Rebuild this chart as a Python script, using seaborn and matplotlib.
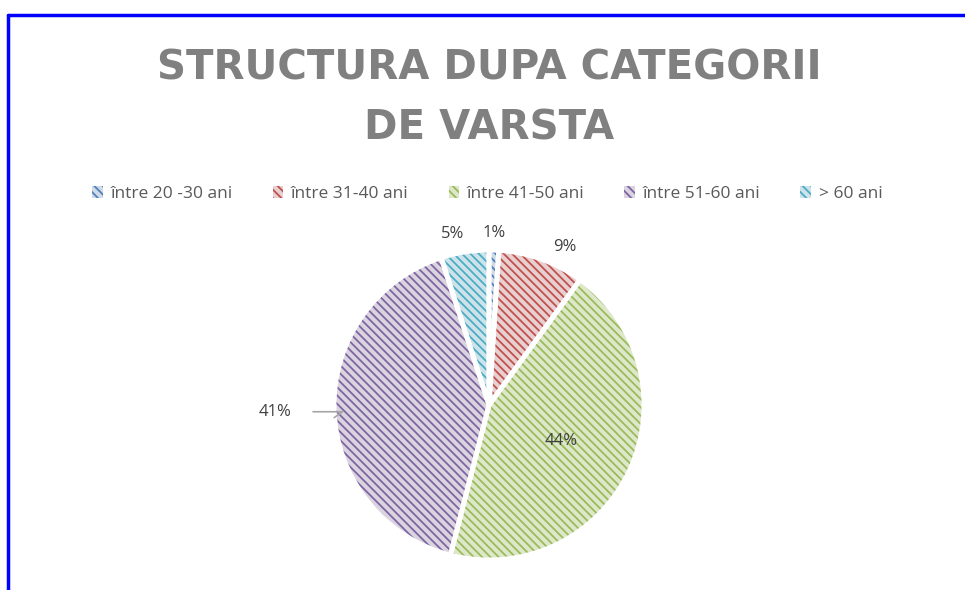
import numpy as np
import matplotlib.pyplot as plt
import matplotlib.patches as mpatches
from matplotlib.colors import to_rgba
import seaborn as sns

# date
categorii = ["între 20 -30 ani", "între 31-40 ani", "între 41-50 ani", "între 51-60 ani", "> 60 ani"]
procente = [1, 9, 44, 41, 5]
etichete = ["1%", "9%", "44%", "41%", "5%"]

# culori (tema Office)
culori_linii = ["#4f81bd", "#c0504d", "#9bbb59", "#8064a2", "#4bacc6"]

sns.set_theme(style="white")
plt.rcParams["font.family"] = ["Open Sans", "DejaVu Sans"]
plt.rcParams["hatch.linewidth"] = 1.3

fig = plt.figure(figsize=(9.65, 5.9), dpi=100)

# chenar albastru (stanga + sus)
fig.add_artist(plt.Line2D([0.008, 0.008], [0, 0.975], color="#0000ff", lw=2.5, transform=fig.transFigure))
fig.add_artist(plt.Line2D([0.008, 1.0], [0.975, 0.975], color="#0000ff", lw=2.5, transform=fig.transFigure))

# titlu
fig.text(0.507, 0.917, "STRUCTURA DUPA CATEGORII\nDE VARSTA", ha="center", va="top",
         fontsize=29, fontweight="bold", color="#808080", linespacing=1.62,
         family=["DejaVu Sans"])

ax = fig.add_axes([0.2658, -0.0805, 0.4819, 0.788])
fundal = [sns.light_palette(c, n_colors=6)[1] for c in culori_linii]
hasura = "\\\\\\\\"

wedges, _ = ax.pie(procente, startangle=90, counterclock=False, colors=fundal,
                   wedgeprops=dict(linewidth=0))
for w, c in zip(wedges, culori_linii):
    w.set_hatch(hasura)
    w._hatch_color = to_rgba(c)

# margini albe
ax.pie(procente, startangle=90, counterclock=False, colors=["none"] * 5,
       wedgeprops=dict(linewidth=3.5, edgecolor="white"))

ax.set_xlim(-1.5, 1.5)
ax.set_ylim(-1.5, 1.5)
ax.set_aspect("equal")
ax.axis("off")

# etichete
distante = [1.11, 1.13, 0.52, 1.38, 1.13]
unghi_corectie = [0, -6, -1, 0, 3]
for w, txt, d, dc in zip(wedges, etichete, distante, unghi_corectie):
    ang = np.deg2rad((w.theta1 + w.theta2) / 2 + dc)
    x, y = d * np.cos(ang), d * np.sin(ang)
    if txt == "41%":
        ax.annotate(txt, xy=(np.cos(ang), np.sin(ang) - 0.05),
                    xytext=(x, y), ha="center", va="center", fontsize=12, color="#404040",
                    arrowprops=dict(arrowstyle="-", color="#a6a6a6", lw=1.2,
                                    connectionstyle="angle,angleA=0,angleB=35,rad=0",
                                    shrinkA=13, shrinkB=0))
    else:
        ax.text(x, y, txt, ha="center", va="center", fontsize=12, color="#404040")

# legenda
handles = [mpatches.Patch(facecolor=f, hatch=hasura, linewidth=0, label=l)
           for f, l in zip(fundal, categorii)]
for h, c in zip(handles, culori_linii):
    h._hatch_color = to_rgba(c)
fig.legend(handles=handles, loc="center", bbox_to_anchor=(0.505, 0.671), ncol=5,
           frameon=False, fontsize=12.5, handlelength=0.6, handleheight=0.6,
           handletextpad=0.45, columnspacing=2.3, labelcolor="#595959")

fig.savefig("out.png", dpi=100)
